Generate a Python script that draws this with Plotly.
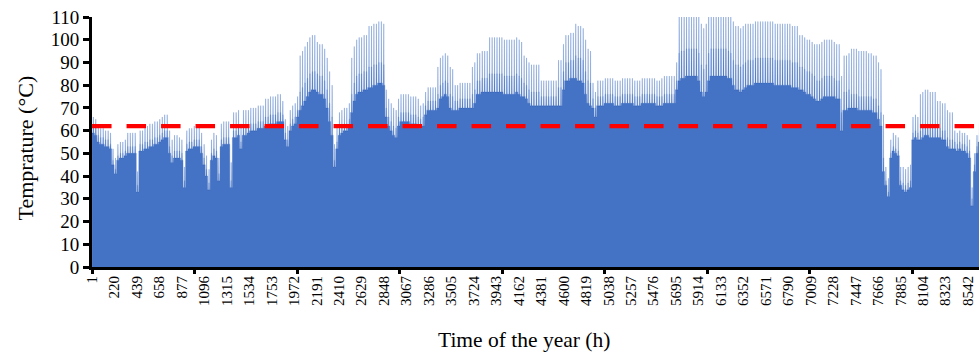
import plotly.graph_objects as go

# Daily night-time (base) temperature, one row per week of the year
base_daily = [
    59, 58, 55, 54, 54, 53, 53,
    52, 45, 41, 47, 48, 48, 49,
    50, 50, 50, 50, 33, 51, 51,
    52, 52, 53, 53, 54, 54, 55,
    56, 57, 57, 50, 46, 48, 48,
    48, 47, 35, 51, 52, 52, 53,
    53, 53, 50, 45, 40, 34, 47,
    49, 48, 38, 53, 54, 54, 54,
    35, 57, 57, 58, 52, 58, 58,
    59, 60, 60, 60, 61, 61, 61,
    62, 62, 63, 63, 63, 64, 64,
    64, 56, 53, 60, 62, 63, 66,
    69, 71, 73, 75, 77, 78, 78,
    77, 76, 76, 74, 70, 64, 58,
    44, 52, 58, 59, 60, 60, 62,
    68, 73, 76, 77, 77, 78, 78,
    79, 79, 80, 80, 81, 81, 80,
    66, 62, 60, 58, 57, 62, 64,
    64, 64, 64, 63, 63, 63, 62,
    61, 62, 67, 69, 69, 69, 69,
    70, 74, 75, 76, 75, 70, 69,
    69, 69, 70, 70, 70, 70, 70,
    70, 72, 76, 76, 77, 77, 77,
    77, 77, 77, 77, 77, 77, 76,
    76, 76, 76, 76, 77, 76, 75,
    75, 74, 72, 71, 71, 71, 71,
    71, 71, 71, 71, 71, 71, 71,
    71, 71, 78, 82, 82, 83, 83,
    83, 82, 82, 81, 76, 72, 71,
    70, 66, 71, 71, 71, 72, 72,
    72, 72, 71, 71, 71, 72, 72,
    72, 72, 72, 71, 71, 71, 72,
    72, 72, 72, 72, 72, 71, 71,
    71, 72, 72, 72, 72, 72, 78,
    82, 83, 83, 84, 84, 84, 84,
    84, 82, 77, 75, 77, 82, 84,
    84, 84, 84, 84, 84, 84, 83,
    83, 80, 78, 78, 77, 78, 79,
    80, 80, 80, 81, 81, 81, 81,
    81, 81, 81, 81, 80, 80, 80,
    80, 80, 80, 80, 79, 79, 79,
    78, 78, 77, 76, 76, 75, 74,
    73, 73, 74, 75, 75, 75, 75,
    75, 74, 74, 60, 69, 69, 70,
    70, 70, 70, 69, 69, 69, 69,
    69, 69, 68, 68, 65, 62, 42,
    36, 31, 48, 51, 50, 49, 36,
    34, 33, 34, 35, 56, 57, 56,
    56, 57, 58, 58, 57, 57, 57,
    57, 57, 56, 56, 53, 52, 52,
    52, 51, 52, 51, 51, 50, 48,
    27, 42, 50, 55, 55, 54, 54,
    54,
]

# Weekly rise above the base during the day: shoulder hours and midday peak
band_rise_weekly = [3, 2, 3, 3, 3, 3, 3, 3, 3, 3, 4, 3, 8, 8, 3, 8, 9, 4, 4, 4,
                    6, 4, 6, 8, 8, 6, 4, 8, 10, 4, 4, 4, 4, 4, 12, 12, 12, 11, 11, 11,
                    11, 10, 9, 8, 6, 6, 2, 3, 4, 4, 3, 3, 3]
peak_rise_weekly = [7, 7, 9, 10, 10, 9, 9, 10, 11, 10, 12, 9, 24, 22, 10, 24, 27, 12, 12, 10,
                    18, 11, 18, 24, 24, 18, 11, 20, 24, 11, 11, 11, 11, 12, 30, 30, 30, 28, 27, 27,
                    27, 24, 25, 24, 26, 25, 8, 10, 20, 16, 8, 8, 8]

# Which level each hour of a day sits at: base, shoulder, peak
day_levels = ["b"] * 9 + ["m"] * 3 + ["p"] * 2 + ["m"] * 3 + ["b"] * 7

threshold_temp = 62
label_step = 219
tick_mark_step = 1000

hours = list(range(1, len(base_daily) * 24 + 1))
temps = []
for d, b in enumerate(base_daily):
    w = d // 7
    for lvl in day_levels:
        if lvl == "b":
            temps.append(b)
        elif lvl == "m":
            temps.append(b + band_rise_weekly[w])
        else:
            temps.append(b + peak_rise_weekly[w])

label_vals = list(range(1, len(hours) + 1, label_step))
mark_vals = [0.5 + k * tick_mark_step for k in range(0, 9)]

FONT = "Times New Roman, Liberation Serif, serif"

fig = go.Figure()
fig.add_trace(go.Scatter(
    x=hours, y=temps, mode="lines", fill="tozeroy",
    fillcolor="#4472C4", line=dict(color="#4472C4", width=0.3, simplify=False),
    hoverinfo="skip", showlegend=False,
))
fig.add_trace(go.Scatter(
    x=[hours[0], hours[-1]], y=[threshold_temp, threshold_temp], mode="lines",
    line=dict(color="#FF0000", width=4.3, dash="19.5px,15px"),
    hoverinfo="skip", showlegend=False,
))
# invisible trace carrying the secondary axis with the long tick marks
fig.add_trace(go.Scatter(x=[hours[0]], y=[0], xaxis="x2", mode="markers",
                         marker=dict(opacity=0), hoverinfo="skip", showlegend=False))

x_range = [0.5, 8649]
fig.update_layout(
    width=979, height=352,
    margin=dict(l=92, r=0, t=17, b=85),
    paper_bgcolor="white", plot_bgcolor="white",
    font=dict(family=FONT, color="black"),
    xaxis=dict(
        range=x_range, tickmode="array", tickvals=label_vals,
        ticktext=[str(v) for v in label_vals], tickangle=-90,
        ticks="", showgrid=False, zeroline=False,
        showline=True, linecolor="black", linewidth=3,
        tickfont=dict(family=FONT, size=15, color="black"),
    ),
    xaxis2=dict(
        range=x_range, overlaying="x", anchor="y", side="bottom",
        tickmode="array", tickvals=mark_vals, ticks="outside", ticklen=6,
        tickwidth=3, tickcolor="black", showticklabels=False,
        showgrid=False, zeroline=False, showline=False,
    ),
    yaxis=dict(
        range=[0, 110], tickmode="linear", tick0=0, dtick=10,
        ticks="outside", ticklen=6, tickwidth=3, tickcolor="black",
        showgrid=False, zeroline=False,
        showline=True, linecolor="black", linewidth=3,
        tickfont=dict(family=FONT, size=19, color="black"),
    ),
    annotations=[
        dict(text="Time of the year (h)", xref="paper", yref="paper",
             x=0.487, y=-0.292, xanchor="center", yanchor="middle",
             showarrow=False, font=dict(family=FONT, size=21.5, color="black")),
        dict(text="Temprature (°C)", xref="paper", yref="paper",
             x=-0.075, y=0.476, xanchor="center", yanchor="middle",
             textangle=-90, showarrow=False,
             font=dict(family=FONT, size=22, color="black")),
    ],
)

fig.write_html("out.html")
